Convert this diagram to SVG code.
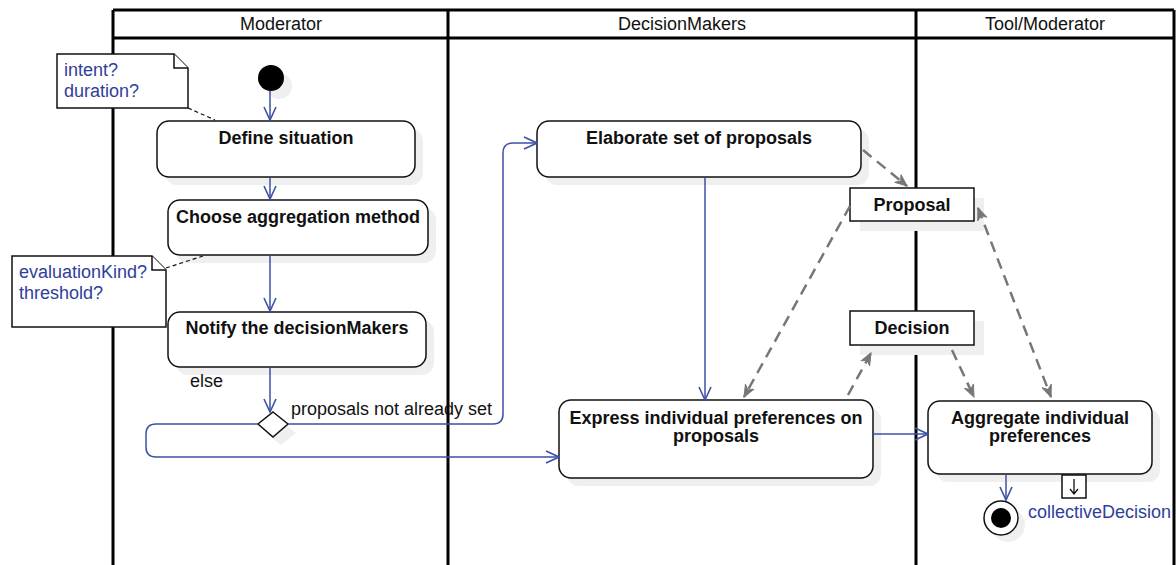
<svg xmlns="http://www.w3.org/2000/svg" width="1176" height="565" viewBox="0 0 1176 565">
<defs>
<style>
.lane{fill:none;stroke:#000;stroke-width:3}
.hdr{font-family:"Liberation Sans",Arial,sans-serif;font-size:18px;fill:#111;text-anchor:middle}
.act{fill:#fff;stroke:#111;stroke-width:1.5}
.sh{fill:#efefef;stroke:none}
.bt{font-family:"Liberation Sans",Arial,sans-serif;font-size:18px;font-weight:bold;fill:#111;text-anchor:middle}
.note{fill:#fff;stroke:#111;stroke-width:1.5}
.nt{font-family:"Liberation Sans",Arial,sans-serif;font-size:18px;fill:#2e3e9c}
.lbl{font-family:"Liberation Sans",Arial,sans-serif;font-size:18px;fill:#111}
.flow{fill:none;stroke:#3b51a6;stroke-width:1.5}
.obj{fill:none;stroke:#777;stroke-width:2.5;stroke-dasharray:11,7}
.dl{fill:none;stroke:#111;stroke-width:1.2;stroke-dasharray:4,3}
</style>
<marker id="oa" viewBox="0 0 15 14" refX="14" refY="7" markerWidth="15" markerHeight="14" markerUnits="userSpaceOnUse" orient="auto">
<path d="M1,1 L14,7 L1,13" fill="none" stroke="#3b51a6" stroke-width="1.6"/>
</marker>
<marker id="ga" viewBox="0 0 13 12" refX="12" refY="6" markerWidth="13" markerHeight="12" markerUnits="userSpaceOnUse" orient="auto">
<path d="M0,1 L12,6 L0,11 L4,6 Z" fill="#777" stroke="#777" stroke-width="1"/>
</marker>
<marker id="gs" viewBox="0 0 13 12" refX="1" refY="6" markerWidth="13" markerHeight="12" markerUnits="userSpaceOnUse" orient="auto">
<path d="M13,1 L1,6 L13,11 L9,6 Z" fill="#777" stroke="#777" stroke-width="1"/>
</marker>
</defs>
<rect width="1176" height="565" fill="#fff"/>

<g id="swimlanes">
<line class="lane" x1="113" y1="10" x2="1174" y2="10"/>
<line class="lane" x1="113" y1="38" x2="1174" y2="38"/>
<line class="lane" x1="113" y1="10" x2="113" y2="565"/>
<line class="lane" x1="448" y1="10" x2="448" y2="565"/>
<line class="lane" x1="916" y1="10" x2="916" y2="565"/>
<line class="lane" x1="1174" y1="10" x2="1174" y2="565"/>
<text class="hdr" x="281" y="30">Moderator</text>
<text class="hdr" x="682" y="30">DecisionMakers</text>
<text class="hdr" x="1045" y="30">Tool/Moderator</text>
</g>

<g id="note1">
<path class="note" d="M57,54 H174 L188,68 V108 H57 Z"/>
<path class="note" d="M174,54 V68 H188"/>
<text class="nt" x="64" y="76">intent?</text>
<text class="nt" x="64" y="97">duration?</text>
</g>

<g id="note2">
<path class="note" d="M12,256 H152 L166,270 V327 H12 Z"/>
<path class="note" d="M152,256 V270 H166"/>
<text class="nt" x="19" y="278">evaluationKind?</text>
<text class="nt" x="19" y="299">threshold?</text>
</g>

<g id="start">
<circle class="sh" cx="279" cy="86" r="13"/>
<circle cx="271" cy="78" r="13" fill="#000"/>
</g>

<g id="define">
<rect class="sh" x="165" y="129" width="258" height="56" rx="12"/>
<rect class="act" x="157" y="121" width="258" height="56" rx="12"/>
<text class="bt" x="286" y="144">Define situation</text>
</g>

<g id="choose">
<rect class="sh" x="176" y="208" width="260" height="55" rx="12"/>
<rect class="act" x="168" y="200" width="260" height="55" rx="12"/>
<text class="bt" x="298" y="223">Choose aggregation method</text>
</g>

<g id="notify">
<rect class="sh" x="176" y="320" width="258" height="55" rx="12"/>
<rect class="act" x="168" y="312" width="258" height="55" rx="12"/>
<text class="bt" x="297" y="334">Notify the decisionMakers</text>
</g>

<g id="decision-node">
<path class="sh" d="M281,421 L296,433 L281,445 L266,433 Z"/>
<path d="M273,412 L288,424 L273,437 L258,424 Z" fill="#fff" stroke="#111" stroke-width="1.5"/>
<text class="lbl" x="190" y="387">else</text>
<text class="lbl" x="291" y="415">proposals not already set</text>
</g>

<g id="elaborate">
<rect class="sh" x="545" y="129" width="324" height="56" rx="12"/>
<rect class="act" x="537" y="121" width="324" height="56" rx="12"/>
<text class="bt" x="699" y="144">Elaborate set of proposals</text>
</g>

<g id="express">
<rect class="sh" x="567" y="408" width="314" height="78" rx="12"/>
<rect class="act" x="559" y="400" width="314" height="78" rx="12"/>
<text class="bt" x="716" y="424">Express individual preferences on</text>
<text class="bt" x="716" y="442">proposals</text>
</g>

<g id="proposal">
<rect class="sh" x="860" y="198" width="124" height="33"/>
<rect class="act" x="850" y="188" width="124" height="33"/>
<text class="bt" x="912" y="211">Proposal</text>
</g>

<g id="decision">
<rect class="sh" x="860" y="321" width="124" height="34"/>
<rect class="act" x="850" y="311" width="124" height="34"/>
<text class="bt" x="912" y="334">Decision</text>
</g>

<g id="aggregate">
<rect class="sh" x="936" y="409" width="224" height="73" rx="12"/>
<rect class="act" x="928" y="401" width="224" height="73" rx="12"/>
<text class="bt" x="1040" y="424">Aggregate individual</text>
<text class="bt" x="1040" y="442">preferences</text>
</g>

<g id="output-pin">
<rect x="1062" y="475" width="24" height="23" fill="#fff" stroke="#111" stroke-width="1.5"/>
<path d="M1074,479 V493 M1070,489 L1074,494 L1078,489" fill="none" stroke="#111" stroke-width="1.3"/>
<text class="nt" x="1028" y="518">collectiveDecision</text>
</g>

<g id="final">
<circle class="sh" cx="1008" cy="525" r="17"/>
<circle cx="1001" cy="518" r="17" fill="#fff" stroke="#111" stroke-width="1.5"/>
<circle cx="1001" cy="518" r="10" fill="#000"/>
</g>

<g id="connectors">
<path class="flow" d="M270,91 V120" marker-end="url(#oa)"/>
<path class="flow" d="M270,178 V199" marker-end="url(#oa)"/>
<path class="flow" d="M270,256 V311" marker-end="url(#oa)"/>
<path class="flow" d="M270,368 V412" marker-end="url(#oa)"/>
<path class="flow" d="M288,424 H493 Q503,424 503,414 V153 Q503,143 513,143 H537" marker-end="url(#oa)"/>
<path class="flow" d="M258,424 H156 Q146,424 146,434 V447 Q146,457 156,457 H559" marker-end="url(#oa)"/>
<path class="flow" d="M705,178 V400" marker-end="url(#oa)"/>
<path class="flow" d="M873,434 H928" marker-end="url(#oa)"/>
<path class="flow" d="M1006,475 V500" marker-end="url(#oa)"/>
<path class="obj" d="M863,150 L907,186" marker-end="url(#ga)"/>
<path class="obj" d="M850,206 L744,397" marker-end="url(#ga)"/>
<path class="obj" d="M848,395 L871,353" marker-end="url(#ga)"/>
<path class="obj" d="M952,350 L974,397" marker-end="url(#ga)"/>
<path class="obj" d="M978,208 L1051,397" marker-start="url(#gs)" marker-end="url(#ga)"/>
<path class="dl" d="M188,108 L215,120"/>
<path class="dl" d="M166,268 L203,256"/>
</g>
</svg>
